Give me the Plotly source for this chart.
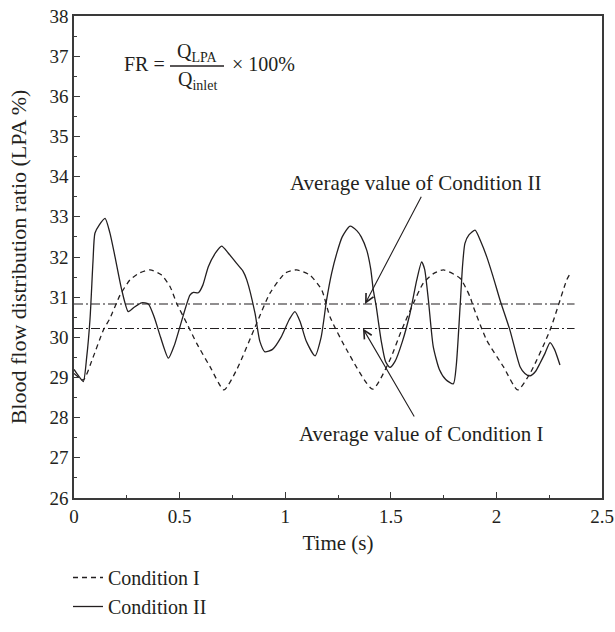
import plotly.graph_objects as go

# Condition I (dashed)
t1 = [0.0, 0.044, 0.09, 0.139, 0.17, 0.218, 0.265, 0.31, 0.36, 0.415, 0.455, 0.486, 0.534, 0.581, 0.644,
      0.710, 0.770, 0.865, 0.928, 1.0, 1.054, 1.117, 1.173, 1.212, 1.291, 1.414, 1.496, 1.551, 1.607, 1.654,
      1.70, 1.749, 1.828, 1.875, 1.891, 1.954, 2.033, 2.101, 2.159, 2.254, 2.333, 2.345]
v1 = [29.1, 28.94, 29.5, 30.18, 30.47, 31.05, 31.43, 31.6, 31.68, 31.55, 31.26, 30.85, 30.35, 29.85, 29.27,
      28.69, 29.19, 30.35, 31.1, 31.6, 31.68, 31.55, 31.18, 30.51, 29.69, 28.71, 29.44, 30.18, 30.85, 31.35,
      31.58, 31.68, 31.47, 31.01, 30.76, 29.93, 29.27, 28.69, 29.1, 30.18, 31.43, 31.55]

# Condition II (solid)
t2 = [0.0, 0.02, 0.044, 0.06, 0.076, 0.09, 0.099, 0.12, 0.147, 0.17, 0.194, 0.226, 0.257, 0.285, 0.32, 0.352,
      0.38, 0.41, 0.447, 0.475, 0.502, 0.549, 0.565, 0.589, 0.61, 0.636, 0.67, 0.699, 0.73, 0.770, 0.80, 0.818,
      0.857, 0.88, 0.904, 0.94, 0.98, 1.02, 1.046, 1.07, 1.10, 1.141, 1.17, 1.196, 1.22, 1.244, 1.27, 1.307,
      1.34, 1.36, 1.386, 1.405, 1.417, 1.43, 1.455, 1.475, 1.496, 1.52, 1.555, 1.591, 1.623, 1.646, 1.66, 1.678,
      1.701, 1.73, 1.76, 1.796, 1.81, 1.828, 1.84, 1.851, 1.87, 1.899, 1.925, 1.954, 1.985, 2.017, 2.064, 2.112,
      2.135, 2.159, 2.185, 2.206, 2.23, 2.254, 2.275, 2.301]
v2 = [29.2, 29.05, 28.9, 29.5, 30.47, 31.9, 32.59, 32.8, 32.96, 32.6, 32.01, 31.18, 30.64, 30.75, 30.86, 30.83,
      30.5, 30.0, 29.48, 29.8, 30.27, 31.05, 31.12, 31.11, 31.3, 31.76, 32.1, 32.27, 32.1, 31.84, 31.65, 31.43,
      30.6, 29.9, 29.64, 29.7, 30.0, 30.45, 30.64, 30.4, 29.9, 29.54, 30.0, 30.93, 31.6, 32.09, 32.5, 32.77,
      32.65, 32.5, 32.17, 31.7, 31.18, 30.8, 29.9, 29.4, 29.25, 29.4, 29.9, 30.6, 31.43, 31.88, 31.7, 30.93,
      29.77, 29.2, 28.95, 28.84, 29.3, 30.76, 31.8, 32.34, 32.55, 32.67, 32.4, 32.01, 31.5, 30.93, 30.18, 29.27,
      29.1, 29.04, 29.15, 29.35, 29.6, 29.87, 29.7, 29.31]

avg_names = ["Average value of Condition I", "Average value of Condition II"]
avg_values = [30.22, 30.83]
avg_t = [0.0, 2.37]

x_ticks = [0, 0.5, 1, 1.5, 2, 2.5]
x_labels = ["0", "0.5", "1", "1.5", "2", "2.5"]
y_ticks = list(range(26, 39))

FONT = "Liberation Serif, Times New Roman, serif"
INK = "#231f20"
AX = "#3a3a3a"

FW, FH = 615, 632
L, T, W, H = 74, 16, 528, 482

def px(xp):   # page x pixel -> paper x
    return (xp - L) / W
def py(yp):   # page y pixel -> paper y
    return (T + H - yp) / H

fig = go.Figure()
fig.add_trace(go.Scatter(x=t1, y=v1, mode="lines", name="Condition I",
                         line=dict(color=INK, width=1.3, dash="5px,4px", shape="spline", smoothing=0.6)))
fig.add_trace(go.Scatter(x=t2, y=v2, mode="lines", name="Condition II",
                         line=dict(color=INK, width=1.3, shape="spline", smoothing=0.6)))
for val in avg_values:
    fig.add_trace(go.Scatter(x=avg_t, y=[val, val], mode="lines", showlegend=False, hoverinfo="skip",
                             line=dict(color=INK, width=1.2, dash="9px,3px,2px,3px")))

# arrows with labels
fig.add_annotation(x=1.378, y=avg_values[1], ax=1.648, ay=33.54, xref="x", yref="y", axref="x", ayref="y",
                   text="", showarrow=True, arrowhead=5, arrowsize=1.5, arrowwidth=1.1, arrowcolor=INK)
fig.add_annotation(x=1.62, y=33.85, xanchor="center", text=avg_names[1], showarrow=False,
                   font=dict(family=FONT, size=21, color=INK))
fig.add_annotation(x=1.368, y=avg_values[0], ax=1.615, ay=27.99, xref="x", yref="y", axref="x", ayref="y",
                   text="", showarrow=True, arrowhead=5, arrowsize=1.5, arrowwidth=1.1, arrowcolor=INK)
fig.add_annotation(x=1.645, y=27.6, xanchor="center", text=avg_names[0], showarrow=False,
                   font=dict(family=FONT, size=21, color=INK))

# formula
ff = dict(family=FONT, size=20, color=INK)
fig.add_annotation(xref="paper", yref="paper", x=px(122), y=py(64), xanchor="left", yanchor="middle",
                   text="FR =", showarrow=False, font=ff)
fig.add_annotation(xref="paper", yref="paper", x=px(197), y=py(53), xanchor="center", yanchor="middle",
                   text="Q<sub>LPA</sub>", showarrow=False, font=ff)
fig.add_annotation(xref="paper", yref="paper", x=px(197), y=py(81), xanchor="center", yanchor="middle",
                   text="Q<sub>inlet</sub>", showarrow=False, font=ff)
fig.add_annotation(xref="paper", yref="paper", x=px(230), y=py(64), xanchor="left", yanchor="middle",
                   text="× 100%", showarrow=False, font=ff)
fig.add_shape(type="line", xref="paper", yref="paper",
              x0=px(170), x1=px(224), y0=py(66), y1=py(66),
              line=dict(color=INK, width=1.6))

axis_common = dict(showline=True, linecolor=AX, linewidth=1.5, mirror=True, ticks="inside",
                   ticklen=6, tickcolor=AX, tickwidth=1.2, showgrid=False, zeroline=False,
                   automargin=False, ticklabeloverflow="allow",
                   tickfont=dict(family=FONT, size=19, color=INK))
fig.update_xaxes(range=[0, 2.5], tickvals=x_ticks, ticktext=x_labels,
                 title=dict(text="Time (s)", font=dict(family=FONT, size=21, color=INK), standoff=10),
                 minor=dict(ticks="inside", ticklen=3, tickcolor=AX, dtick=0.25), **axis_common)
fig.update_yaxes(range=[26, 38], tickvals=y_ticks,
                 title=dict(text="Blood flow distribution ratio (LPA %)",
                            font=dict(family=FONT, size=22, color=INK), standoff=17),
                 minor=dict(ticks="inside", ticklen=3, tickcolor=AX, dtick=0.5), **axis_common)

fig.update_layout(width=FW, height=FH,
                  margin=dict(l=L, r=FW - L - W, t=T, b=FH - T - H, autoexpand=False),
                  plot_bgcolor="white", paper_bgcolor="white",
                  font=dict(family=FONT, size=21, color=INK),
                  legend=dict(x=px(68), y=py(558), xanchor="left", yanchor="top", orientation="v",
                              font=dict(family=FONT, size=20, color=INK), bgcolor="rgba(0,0,0,0)",
                              tracegroupgap=0, itemwidth=30),
                  showlegend=True)

fig.write_html("out.html", config={"displayModeBar": False},
               post_script="document.body.style.margin='0';document.body.style.overflow='hidden';")
